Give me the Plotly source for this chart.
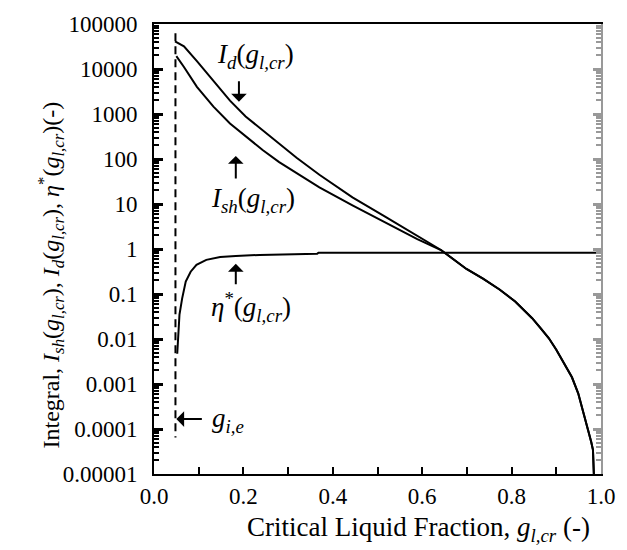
import plotly.graph_objects as go

# ---- data (g_l,cr, value) ----
g_d = [0.047, 0.056, 0.067, 0.096, 0.133, 0.170, 0.205, 0.243, 0.280, 0.319, 0.370,
       0.444, 0.517, 0.589, 0.642, 0.699, 0.736, 0.773, 0.808, 0.846, 0.865, 0.883,
       0.900, 0.918, 0.935, 0.949, 0.960, 0.971, 0.978, 0.982, 0.984]
I_d = [41200, 37300, 32000, 15000, 5450, 1980, 880, 434, 214, 107, 44.7,
       14.1, 5.25, 2.0, 0.95, 0.36, 0.22, 0.126, 0.068, 0.029, 0.0175, 0.0105,
       0.0058, 0.00282, 0.00141, 0.00062, 0.00026, 9.5e-5, 5.2e-5, 3.45e-5, 1.0e-5]

g_sh = [0.050, 0.067, 0.096, 0.133, 0.170, 0.205, 0.243, 0.280, 0.319, 0.370,
        0.444, 0.517, 0.589, 0.642, 0.699, 0.736, 0.773, 0.808, 0.846, 0.865, 0.883,
        0.900, 0.918, 0.935, 0.949, 0.960, 0.971, 0.978, 0.982, 0.984]
I_sh = [19300, 11100, 4020, 1460, 618, 320, 158, 85, 47.9, 23.4,
        9.27, 3.92, 1.66, 0.95, 0.36, 0.22, 0.126, 0.068, 0.029, 0.0175, 0.0105,
        0.0058, 0.00282, 0.00141, 0.00062, 0.00026, 9.5e-5, 5.2e-5, 3.45e-5, 1.0e-5]

g_eta = [0.052, 0.054, 0.057, 0.063, 0.071, 0.082, 0.095, 0.117, 0.148, 0.183,
         0.236, 0.365, 0.368, 1.0]
eta = [0.0047, 0.012, 0.035, 0.080, 0.188, 0.313, 0.445, 0.573, 0.667, 0.70,
       0.74, 0.78, 0.83, 0.83]

g_ie = [0.048, 0.048]
ie_span = [62000, 6.5e-5]

y_tickvals = [1e5, 1e4, 1e3, 1e2, 1e1, 1, 0.1, 0.01, 0.001, 0.0001, 0.00001]
y_ticktext = ["100000", "10000", "1000", "100", "10", "1", "0.1", "0.01",
              "0.001", "0.0001", "0.00001"]
x_tickvals = [0.0, 0.2, 0.4, 0.6, 0.8, 1.0]
x_ticktext = ["0.0", "0.2", "0.4", "0.6", "0.8", "1.0"]

FONT = "Liberation Serif, Times New Roman, serif"
line = dict(color="black", width=2)

fig = go.Figure()
fig.add_trace(go.Scatter(x=g_d, y=I_d, mode="lines", line=line))
fig.add_trace(go.Scatter(x=g_sh, y=I_sh, mode="lines", line=line))
fig.add_trace(go.Scatter(x=g_eta, y=eta, mode="lines", line=line))
fig.add_trace(go.Scatter(x=g_ie, y=ie_span, mode="lines",
                         line=dict(color="black", width=2, dash="8px,5px")))
fig.add_trace(go.Scatter(x=g_eta, y=eta, mode="lines", yaxis="y2",
                         line=dict(width=0), hoverinfo="skip", opacity=0))

fig.update_layout(
    width=627, height=550,
    margin=dict(l=154, r=16, t=19, b=76),
    paper_bgcolor="white", plot_bgcolor="white",
    showlegend=False,
    font=dict(family=FONT, size=24, color="black"),
    xaxis=dict(range=[0, 1], tickvals=x_tickvals, ticktext=x_ticktext,
               ticks="inside", ticklen=7, tickwidth=1.5, tickcolor="black",
               showline=True, linecolor="black", linewidth=2, mirror=True,
               showgrid=False, zeroline=False, ticklabelstandoff=0,
               ticklabeloverflow="allow",
               minor=dict(ticks="inside", ticklen=7, tickwidth=1.5, dtick=0.1,
                          tickcolor="black", showgrid=False),
               tickfont=dict(family=FONT, size=23)),
    yaxis=dict(type="log", range=[-5, 5], tickvals=y_tickvals, ticktext=y_ticktext,
               ticks="inside", ticklen=9, tickwidth=3, tickcolor="black",
               showline=True, linecolor="black", linewidth=2,
               showgrid=False, zeroline=False, ticklabelstandoff=10,
               ticklabeloverflow="allow",
               minor=dict(ticks="inside", ticklen=5, tickwidth=1.5, dtick="D1",
                          tickcolor="black", showgrid=False),
               tickfont=dict(family=FONT, size=23)),
    yaxis2=dict(type="log", range=[-5, 5], overlaying="y", side="right",
                tickvals=y_tickvals, showticklabels=False,
                ticks="inside", ticklen=8, tickwidth=3, tickcolor="#999999",
                showline=True, linecolor="#999999", linewidth=2,
                showgrid=False, zeroline=False,
                minor=dict(ticks="inside", ticklen=5, tickwidth=1.5, dtick="D1",
                           tickcolor="#999999", showgrid=False)),
)

ann_font = dict(family=FONT, size=27, color="black")
arrow = dict(showarrow=True, arrowhead=1, arrowsize=1.3, arrowwidth=2, arrowcolor="black")

annotations = [
    # labels
    dict(x=0.226, y=4.30, text="<i>I<sub>d</sub></i>(<i>g<sub>l,cr</sub></i>)",
         showarrow=False, font=ann_font),
    dict(x=0.222, y=1.09, text="<i>I<sub>sh</sub></i>(<i>g<sub>l,cr</sub></i>)",
         showarrow=False, font=ann_font),
    dict(x=0.218, y=-1.29, text="<i>η</i><sup>*</sup>(<i>g<sub>l,cr</sub></i>)",
         showarrow=False, font=ann_font),
    dict(x=0.126, y=-3.80, text="<i>g<sub>i,e</sub></i>", xanchor="left",
         showarrow=False, font=ann_font),
    # arrows
    dict(x=0.190, y=3.275, text="", ax=0, ay=-22, **arrow),
    dict(x=0.183, y=2.066, text="", ax=0, ay=24, **arrow),
    dict(x=0.183, y=-0.330, text="", ax=0, ay=22, **arrow),
    dict(x=0.050, y=-3.78, text="", ax=27, ay=0, **arrow),
    # axis titles
    dict(xref="paper", yref="paper", x=0.592, y=-0.122, yanchor="middle",
         text="Critical Liquid Fraction, <i>g<sub>l,cr</sub></i> (-)",
         showarrow=False, font=dict(family=FONT, size=27, color="black")),
    dict(xref="paper", yref="paper", x=-0.272, y=0.442, textangle=-90,
         text="Integral, <i>I<sub>sh</sub></i>(<i>g<sub>l,cr</sub></i>), "
              "<i>I<sub>d</sub></i>(<i>g<sub>l,cr</sub></i>), "
              "<i>η</i><sup>*</sup>(<i>g<sub>l,cr</sub></i>)(-)",
         showarrow=False, font=dict(family=FONT, size=24, color="black")),
]
fig.update_layout(annotations=annotations)

fig.write_html("out.html")
